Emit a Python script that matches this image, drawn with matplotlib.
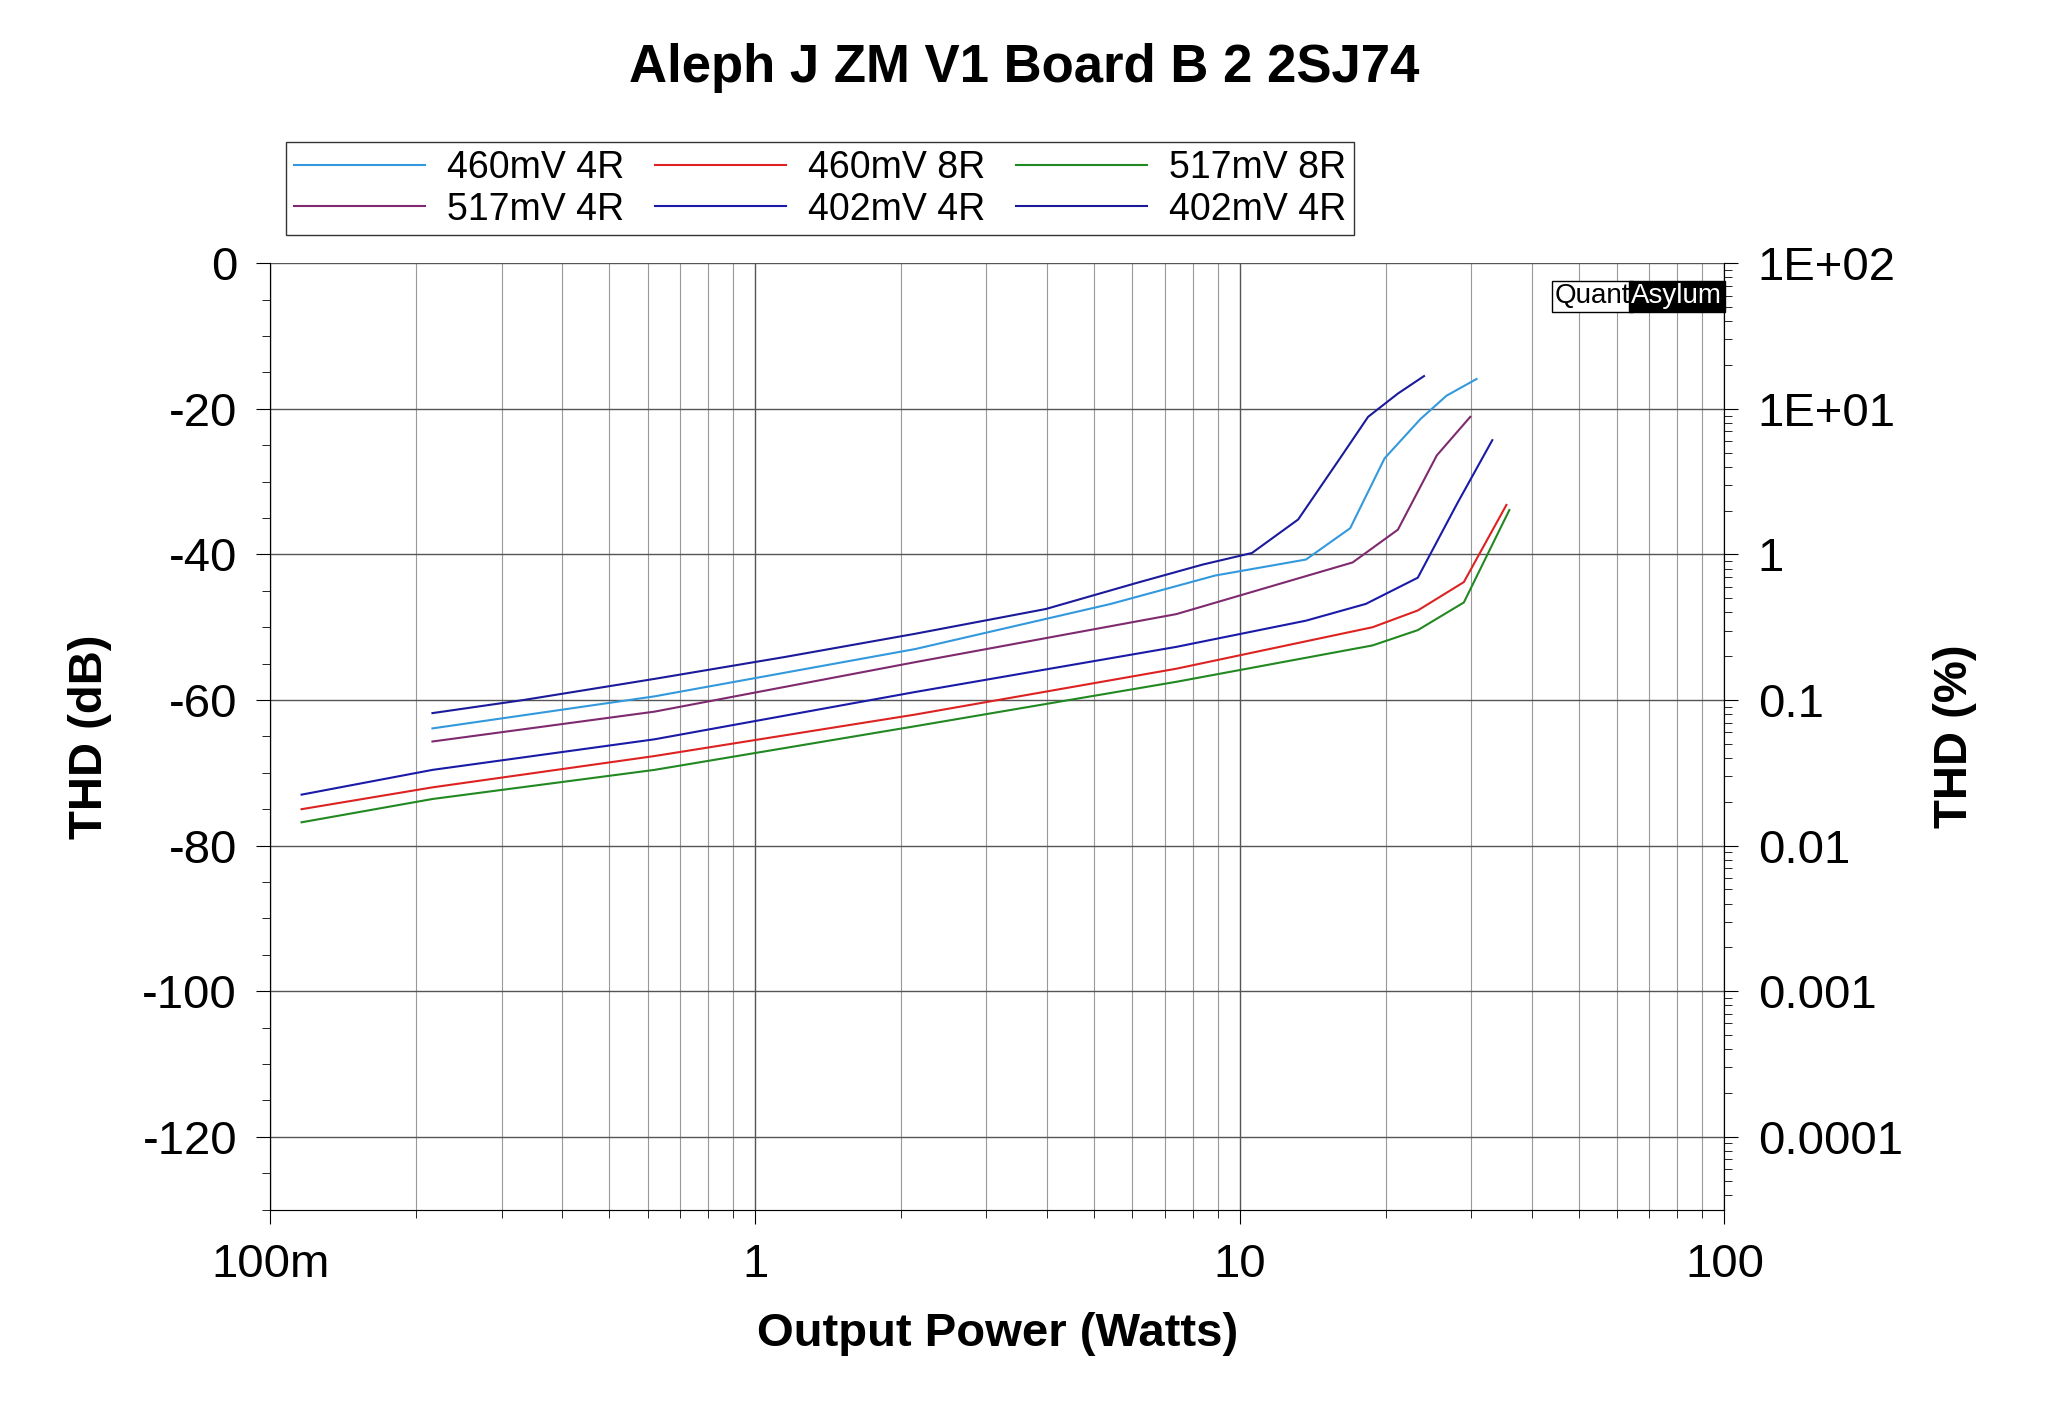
import numpy as np
import matplotlib.pyplot as plt
from matplotlib.ticker import FixedLocator, NullFormatter

plt.rcParams['font.family'] = 'Liberation Sans'
plt.rcParams['axes.unicode_minus'] = False

# data: output power (W) and THD (dB)
p_402a = [0.216, 0.333, 0.62, 1.15, 2.14, 3.98, 6.14, 8.38, 10.6, 13.2, 16.1, 18.4, 21.2, 24.0]
d_402a = [-61.8, -60.0, -57.1, -54.1, -50.9, -47.5, -43.9, -41.4, -39.8, -35.2, -26.8, -21.1, -17.9, -15.5]
p_460_4 = [0.216, 0.62, 2.14, 5.42, 8.9, 13.7, 16.9, 19.9, 23.6, 26.7, 30.8]
d_460_4 = [-63.9, -59.5, -53.0, -46.8, -42.9, -40.7, -36.4, -26.8, -21.4, -18.2, -15.9]
p_517_4 = [0.216, 0.62, 2.14, 7.4, 17.1, 21.2, 25.5, 29.9]
d_517_4 = [-65.7, -61.6, -54.8, -48.2, -41.1, -36.6, -26.4, -21.1]
p_402b = [0.116, 0.216, 0.62, 2.14, 7.4, 13.7, 18.2, 23.3, 28.1, 33.2]
d_402b = [-73.0, -69.6, -65.4, -58.9, -52.7, -49.1, -46.8, -43.2, -33.0, -24.3]
p_460_8 = [0.116, 0.216, 0.62, 2.14, 7.4, 18.8, 23.3, 29.0, 35.5]
d_460_8 = [-75.0, -72.0, -67.7, -62.0, -55.7, -50.0, -47.7, -43.8, -33.2]
p_517_8 = [0.116, 0.216, 0.62, 2.14, 7.4, 18.8, 23.3, 29.0, 36.0]
d_517_8 = [-76.8, -73.6, -69.6, -63.6, -57.5, -52.5, -50.4, -46.6, -33.9]

right_labels = ['1E+02', '1E+01', '1', '0.1', '0.01', '0.001', '0.0001']

fig = plt.figure(figsize=(20.48, 14.23), dpi=100)
ax = fig.add_axes([0.132, 0.15, 0.71, 0.665])

ax.plot(p_460_4, d_460_4, color='#3399dd', lw=1.5, label='460mV 4R')
ax.plot(p_517_4, d_517_4, color='#7f2a6f', lw=1.5, label='517mV 4R')
ax.plot(p_460_8, d_460_8, color='#dd2222', lw=1.5, label='460mV 8R')
ax.plot(p_402b, d_402b, color='#1a1aa8', lw=1.5, label='402mV 4R')
ax.plot(p_517_8, d_517_8, color='#228822', lw=1.5, label='517mV 8R')
ax.plot(p_402a, d_402a, color='#1a1a9a', lw=1.5, label='402mV 4R')

ax.set_xscale('log')
ax.set_xlim(0.1, 100)
ax.set_ylim(-130, 0)
ax.set_yticks(np.arange(-120, 1, 20))
ax.yaxis.set_minor_locator(FixedLocator(np.arange(-130, 1, 5)))
ax.set_xticks([0.1, 1, 10, 100])
ax.set_xticklabels(['100m', '1', '10', '100'])
ax.grid(True, which='major', color='#555555', lw=1)
ax.grid(True, which='minor', axis='x', color='#999999', lw=0.8)
ax.tick_params(labelsize=34, length=10, direction='out', pad=14)
ax.tick_params(which='minor', length=6)
ax.spines['top'].set_visible(False)
for s in ['left', 'bottom', 'right']:
    ax.spines[s].set_color('#666666')

ax2 = ax.twinx()
ax2.set_ylim(-130, 0)
ax2.set_yticks(np.arange(0, -121, -20))
ax2.set_yticklabels(right_labels)
minor = []
for n in range(-5, 2):
    for k in range(2, 10):
        v = 20 * np.log10(k * 10.0 ** n / 100)
        if -130 <= v <= 0:
            minor.append(v)
ax2.yaxis.set_minor_locator(FixedLocator(minor))
ax2.yaxis.set_minor_formatter(NullFormatter())
ax2.tick_params(labelsize=34, length=10, pad=14)
ax2.tick_params(which='minor', length=6)
ax2.spines['top'].set_visible(False)

ax.set_xlabel('Output Power (Watts)', fontsize=34, fontweight='bold', labelpad=18)
ax.set_ylabel('THD (dB)', fontsize=34, fontweight='bold', labelpad=22)
ax2.set_ylabel('THD (%)', fontsize=34, fontweight='bold', labelpad=22)
fig.suptitle('Aleph J ZM V1 Board B 2 2SJ74', fontsize=38, fontweight='bold', y=0.97)

leg = ax.legend(ncol=3, fontsize=27, loc='lower left', bbox_to_anchor=(-0.002, 1.01),
                frameon=True, fancybox=False, edgecolor='black', handlelength=3.5,
                columnspacing=0.8, borderpad=0.2, labelspacing=0.15, handletextpad=0.6)

ax.text(0.935, 0.965, 'Quant', transform=ax.transAxes, fontsize=20, ha='right', va='center',
        color='black', bbox=dict(boxstyle='square,pad=0.1', fc='white', ec='black', lw=1),
        zorder=5)
ax.text(0.936, 0.965, 'Asylum', transform=ax.transAxes, fontsize=20, ha='left', va='center',
        color='white', bbox=dict(boxstyle='square,pad=0.1', fc='black', ec='black', lw=1),
        zorder=5)

fig.savefig('out.png', dpi=100)
